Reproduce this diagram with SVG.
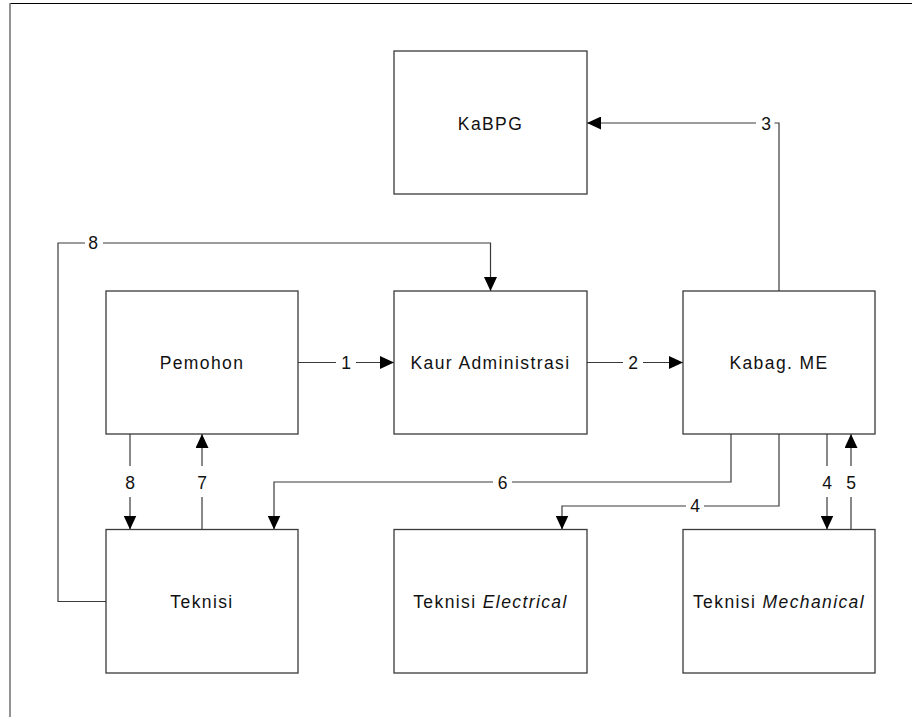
<svg xmlns="http://www.w3.org/2000/svg" width="912" height="717" viewBox="0 0 912 717">
  <defs>
    <marker id="arrow" markerUnits="userSpaceOnUse" markerWidth="14" markerHeight="13" refX="14" refY="6.5" orient="auto">
      <path d="M0,0 L14,6.5 L0,13 z" fill="#000"/>
    </marker>
    <style>
      .box { fill: #fff; stroke: #3a3a3a; stroke-width: 1.3; }
      .name { font-family: "Liberation Sans", Arial, sans-serif; font-size: 17.5px; letter-spacing: 1.4px; fill: #111; text-anchor: middle; }
      .conn { fill: none; stroke: #3a3a3a; stroke-width: 1.2; }
      .arr { marker-end: url(#arrow); }
      .gap { fill: #fff; stroke: none; }
      .num { font-family: "Liberation Sans", Arial, sans-serif; font-size: 17.5px; fill: #111; text-anchor: middle; }
    </style>
  </defs>

  <rect width="912" height="717" fill="#fff"/>

  <!-- page frame: top and left edges -->
  <line x1="10" y1="3.5" x2="912" y2="3.5" stroke="#000" stroke-width="1.2"/>
  <line x1="10" y1="3" x2="10" y2="717" stroke="#777" stroke-width="1.6"/>

  <!-- connectors -->
  <g id="connectors">
    <path class="conn arr" d="M298,362.5 H394"/>
    <path class="conn arr" d="M587,362.5 H683"/>
    <path class="conn arr" d="M779,291 V123 H587"/>
    <path class="conn arr" d="M106,601.5 H58 V243 H490.5 V291"/>
    <path class="conn arr" d="M130,434 V529.5"/>
    <path class="conn arr" d="M202,529.5 V434"/>
    <path class="conn arr" d="M731,434 V482 H274 V529.5"/>
    <path class="conn arr" d="M779,434 V506 H562 V529.5"/>
    <path class="conn arr" d="M827,434 V529.5"/>
    <path class="conn arr" d="M851,529.5 V434"/>

    <!-- flow numbers -->
    <rect class="gap" x="336" y="354" width="20" height="17"/>
    <text class="num" x="346" y="368.5">1</text>
    <rect class="gap" x="623" y="354" width="20" height="17"/>
    <text class="num" x="633" y="368.5">2</text>
    <rect class="gap" x="756" y="115" width="18.5" height="17"/>
    <text class="num" x="766" y="130">3</text>
    <rect class="gap" x="85" y="235" width="18" height="17"/>
    <text class="num" x="93" y="249">8</text>
    <rect class="gap" x="122" y="466" width="16" height="31"/>
    <text class="num" x="130" y="489.3">8</text>
    <rect class="gap" x="194" y="466" width="16" height="31"/>
    <text class="num" x="202" y="489.3">7</text>
    <rect class="gap" x="493" y="474" width="19" height="17"/>
    <text class="num" x="502.5" y="489">6</text>
    <rect class="gap" x="686" y="498" width="18" height="17"/>
    <text class="num" x="695" y="512.3">4</text>
    <rect class="gap" x="819" y="466" width="16" height="31"/>
    <text class="num" x="827" y="489.3">4</text>
    <rect class="gap" x="843" y="466" width="16" height="31"/>
    <text class="num" x="851" y="489.3">5</text>
  </g>

  <!-- nodes -->
  <g id="kabpg">
    <rect class="box" x="394" y="51" width="193" height="143"/>
    <text class="name" x="490.5" y="130">KaBPG</text>
  </g>
  <g id="pemohon">
    <rect class="box" x="106" y="291" width="192" height="143"/>
    <text class="name" x="202" y="369">Pemohon</text>
  </g>
  <g id="kaur-administrasi">
    <rect class="box" x="394" y="291" width="193" height="143"/>
    <text class="name" x="490.5" y="369">Kaur Administrasi</text>
  </g>
  <g id="kabag-me">
    <rect class="box" x="683" y="291" width="192" height="143"/>
    <text class="name" x="779" y="369">Kabag. ME</text>
  </g>
  <g id="teknisi">
    <rect class="box" x="106" y="529.5" width="192" height="143.5"/>
    <text class="name" x="202" y="608">Teknisi</text>
  </g>
  <g id="teknisi-electrical">
    <rect class="box" x="394" y="529.5" width="193" height="143.5"/>
    <text class="name" x="490.5" y="608">Teknisi <tspan font-style="italic">Electrical</tspan></text>
  </g>
  <g id="teknisi-mechanical">
    <rect class="box" x="683" y="529.5" width="192" height="143.5"/>
    <text class="name" x="779" y="608">Teknisi <tspan font-style="italic">Mechanical</tspan></text>
  </g>
</svg>
